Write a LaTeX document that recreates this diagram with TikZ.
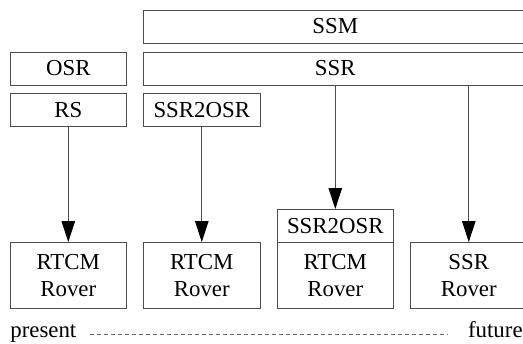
\documentclass[tikz,border=0pt]{standalone}
\usepackage{fontspec}
\setmainfont{Liberation Serif}
\usetikzlibrary{arrows.meta}
\begin{document}
\begin{tikzpicture}[
    box/.style={draw=black!70, line width=0.6pt, minimum width=2.33cm, minimum height=0.66cm,
      anchor=north west, inner sep=0pt, align=center, font=\fontsize{13}{15.3}\selectfont},
    widebox/.style={box, minimum width=7.67cm},
    tallbox/.style={box, minimum height=1.32cm},
    feed/.style={draw=black!70, line width=0.6pt, -{Triangle[length=0.42cm, width=0.27cm, color=black]}},
    timeline/.style={draw=black!60, line width=0.4pt, dash pattern=on 0.08cm off 0.06cm}]
  \useasboundingbox (0,0) rectangle (10.46,6.86);
  \node[widebox] (ssm) at (2.86,6.67) {SSM};
  \node[box] (osr) at (0.19,5.83) {OSR};
  \node[widebox] (ssr) at (2.86,5.83) {SSR};
  \node[box] (rs) at (0.19,5.0) {RS};
  \node[box] (conv) at (2.86,5.0) {SSR2OSR};
  \node[box] (convtop) at (5.53,2.68) {SSR2OSR};
  \node[tallbox] (roverA) at (0.19,2.02) {RTCM\\Rover};
  \node[tallbox] (roverB) at (2.86,2.02) {RTCM\\Rover};
  \node[tallbox] (roverC) at (5.53,2.02) {RTCM\\Rover};
  \node[tallbox] (roverD) at (8.2,2.02) {SSR\\Rover};
  \draw[feed] (rs) -- (roverA);
  \draw[feed] (conv) -- (roverB);
  \draw[feed] (ssr.south -| convtop.north) -- (convtop);
  \draw[feed] (ssr.south -| roverD.north) -- (roverD);
  \node[anchor=base west, inner sep=0pt, font=\fontsize{13}{15.3}\selectfont] (present) at (0.2,0.12) {present};
  \node[anchor=base east, inner sep=0pt, font=\fontsize{13}{15.3}\selectfont] (future) at (10.46,0.12) {future};
  \draw[timeline, shorten <=0.26cm, shorten >=0.42cm]
    ([yshift=0.06cm]present.base east) -- ([yshift=0.06cm]future.base west);
\end{tikzpicture}
\end{document}
